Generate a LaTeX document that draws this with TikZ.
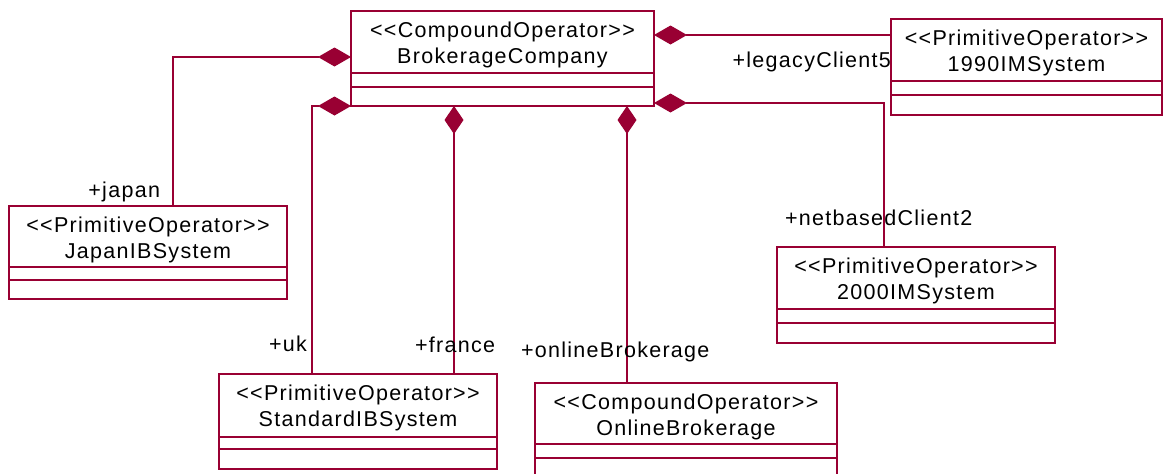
\documentclass[tikz,border=0pt]{standalone}
\usepackage{fontspec}
\setmainfont{Liberation Sans}[LetterSpace=6]
\usetikzlibrary{arrows.meta,fit}
\definecolor{umlred}{RGB}{153,0,51}
\tikzset{
  clsbox/.style={draw=umlred, line width=1.1pt, inner sep=0pt, outer sep=0pt},
  clsline/.style={draw=umlred, line width=1.1pt},
  lbl/.style={inner sep=0pt, outer sep=0pt, text=black, font=\fontsize{21.5}{26}\selectfont},
  comph/.style={draw=umlred, line width=1.1pt, {Diamond[length=33pt,width=19pt,fill=umlred]}-},
  compv/.style={draw=umlred, line width=1.1pt, {Diamond[length=28pt,width=19pt,fill=umlred]}-}
}
\newcommand{\umlclass}[9]{%
  \node[clsbox, fit={(#2,#3) (#4,#5)}] (#1) {};
  \draw[clsline] (#2,#6) -- (#4,#6);
  \draw[clsline] (#2,#7) -- (#4,#7);
  \node[lbl, anchor=base] (#1-st) at ({(#2+#4)/2},{#3+26}) {<{}<#8>{}>};
  \node[lbl, anchor=base] (#1-nm) at ({(#2+#4)/2},{#3+52}) {#9};
}
\begin{document}
\begin{tikzpicture}[x=1pt,y=-1pt]
\clip (0,0) rectangle (1163,474);
\fill[white] (0,0) rectangle (1163,474);
\umlclass{bc}{351}{11}{654}{106}{73}{87}{CompoundOperator}{BrokerageCompany}
\umlclass{im90}{891}{19}{1162}{115}{81}{95}{PrimitiveOperator}{1990IMSystem}
\umlclass{jp}{9}{206}{287}{299}{267}{280}{PrimitiveOperator}{JapanIBSystem}
\umlclass{im00}{777}{247}{1055}{343}{309}{323}{PrimitiveOperator}{2000IMSystem}
\umlclass{std}{219}{374}{497}{469}{437}{449}{PrimitiveOperator}{StandardIBSystem}
\umlclass{ob}{535}{383}{837}{500}{444}{458}{CompoundOperator}{OnlineBrokerage}

% connectors
\draw[comph] ([yshift=1.5pt]bc.west) -| ([xshift=25pt]jp.north);
\draw[comph] (bc.south west) -| ([xshift=-46pt]std.north);
\draw[compv] ([xshift=-48.5pt]bc.south) -- ([xshift=-48.5pt]bc.south |- std.north);
\draw[compv] ([xshift=124.5pt]bc.south) -- ([xshift=124.5pt]bc.south |- ob.north);
\draw[comph] ([yshift=23.5pt]bc.east) -- ([yshift=23.5pt]bc.east -| im90.west);
\draw[comph] ([yshift=-44.5pt]bc.east) -| ([xshift=-32pt]im00.north);

% role labels
\node[lbl, anchor=base east] (l-leg) at (891,67) {+legacyClient5};
\node[lbl, anchor=base east] (l-jp) at (160,197) {+japan};
\node[lbl, anchor=base west] (l-net) at (785,225) {+netbasedClient2};
\node[lbl, anchor=base east] (l-uk) at (307,351) {+uk};
\node[lbl, anchor=base west] (l-fr) at (415,352) {+france};
\node[lbl, anchor=base west] (l-ob) at (521,357) {+onlineBrokerage};
\end{tikzpicture}
\end{document}
